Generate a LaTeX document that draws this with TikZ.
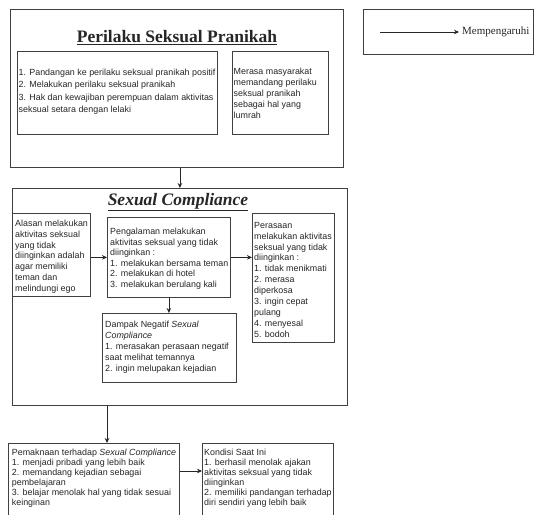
\documentclass[tikz,border=0pt]{standalone}
\usepackage{fontspec}
\setmainfont{Liberation Sans}
\newfontfamily\serifti{Liberation Serif}
\usetikzlibrary{arrows.meta}
\begin{document}
\begin{tikzpicture}[x=1pt,y=-1pt,
 box/.style={draw=black!75, line width=0.8pt, inner sep=0, anchor=north west},
 txt/.style={anchor=west, align=left, inner sep=0, text=black!85},
 arr/.style={draw=black!85, line width=0.7pt, -{Stealth[length=5pt,width=4.5pt]}},
 ttl/.style={inner sep=0, text=black!85}
]
\clip (0,0) rectangle (537,514);
\fill[white] (0,0) rectangle (537,514);
% top block
\node[box, minimum width=333pt, minimum height=158pt] (top) at (10,9) {};
\node[ttl, font=\serifti\bfseries\fontsize{17.5}{20}\selectfont] (t1) at (177,38) {\underline{Perilaku Seksual Pranikah}};
\node[box, minimum width=200pt, minimum height=83pt] (tl) at (17,51) {};
\node[box, minimum width=96pt, minimum height=83pt] (tr) at (232,51) {};
\node[txt, font=\fontsize{8.9}{12.5}\selectfont] (tlt) at (18.5,91.5) {1. Pandangan ke perilaku seksual pranikah positif\\2. Melakukan perilaku seksual pranikah\\3. Hak dan kewajiban perempuan dalam aktivitas\\seksual setara dengan lelaki};
\node[txt, font=\fontsize{8.9}{11.2}\selectfont] (trt) at (233.5,93.3) {Merasa masyarakat\\memandang perilaku\\seksual pranikah\\sebagai hal yang\\lumrah};
% legend
\node[box, minimum width=170pt, minimum height=45pt] (leg) at (363,9) {};
\coordinate (la) at (380,32);
\node[anchor=west, inner sep=3pt, text=black!85, font=\serifti\fontsize{11}{13}\selectfont] (lt) at (459,32) {Mempengaruhi};
\draw[arr] (la) -- (lt.west);
% sexual compliance block
\node[box, minimum width=335pt, minimum height=217pt] (sc) at (12,188) {};
\node[ttl, font=\serifti\bfseries\itshape\fontsize{17.5}{20}\selectfont] (t2) at (178,202) {\underline{Sexual Compliance}};
\node[box, minimum width=78pt, minimum height=83pt] (al) at (12,213) {};
\node[txt, font=\fontsize{8.9}{10.8}\selectfont] (alt) at (15,256.5) {Alasan melakukan\\aktivitas seksual\\yang tidak\\diinginkan adalah\\agar memiliki\\teman dan\\melindungi ego};
\node[box, minimum width=123pt, minimum height=80pt] (pg) at (107,217) {};
\node[txt, font=\fontsize{8.9}{10.5}\selectfont] (pgt) at (110,258.5) {Pengalaman melakukan\\aktivitas seksual yang tidak\\diinginkan :\\1. melakukan bersama teman\\2. melakukan di hotel\\3. melakukan berulang kali};
\node[box, minimum width=82pt, minimum height=129pt] (ps) at (252,213) {};
\node[txt, font=\fontsize{8.9}{10.9}\selectfont] (pst) at (254,279.7) {Perasaan\\melakukan aktivitas\\seksual yang tidak\\diinginkan :\\1. tidak menikmati\\2. merasa\\diperkosa\\3. ingin cepat\\pulang\\4. menyesal\\5. bodoh};
\node[box, minimum width=134pt, minimum height=69pt] (dp) at (102,313) {};
\node[txt, font=\fontsize{8.9}{11}\selectfont] (dpt) at (105,347) {Dampak Negatif \textit{Sexual}\\\textit{Compliance}\\1. merasakan perasaan negatif\\saat melihat temannya\\2. ingin melupakan kejadian};
% bottom
\node[box, minimum width=171pt, minimum height=80pt] (pm) at (8,443) {};
\node[txt, font=\fontsize{8.9}{10}\selectfont] (pmt) at (11.7,477.7) {Pemaknaan terhadap \textit{Sexual Compliance}\\1. menjadi pribadi yang lebih baik\\2. memandang kejadian sebagai\\pembelajaran\\3. belajar menolak hal yang tidak sesuai\\keinginan};
\node[box, minimum width=131pt, minimum height=80pt] (kd) at (202,443) {};
\node[txt, font=\fontsize{8.9}{10}\selectfont] (kdt) at (204,477.7) {Kondisi Saat Ini\\1. berhasil menolak ajakan\\aktivitas seksual yang tidak\\diinginkan\\2. memiliki pandangan terhadap\\diri sendiri yang lebih baik};
% connectors
\draw[arr] (top.south -| sc.north) -- (sc.north);
\draw[arr] (al.east |- pg.west) -- (pg.west);
\draw[arr] (pg.east) -- (pg.east -| ps.west);
\draw[arr] (pg.south) -- (pg.south |- dp.north);
\draw[arr] ([xshift=99pt]pm.north west |- sc.south) -- ([xshift=99pt]pm.north west);
\coordinate (pk) at (0,471);
\draw[arr] (pk -| pm.east) -- (pk -| kd.west);
\end{tikzpicture}
\end{document}
